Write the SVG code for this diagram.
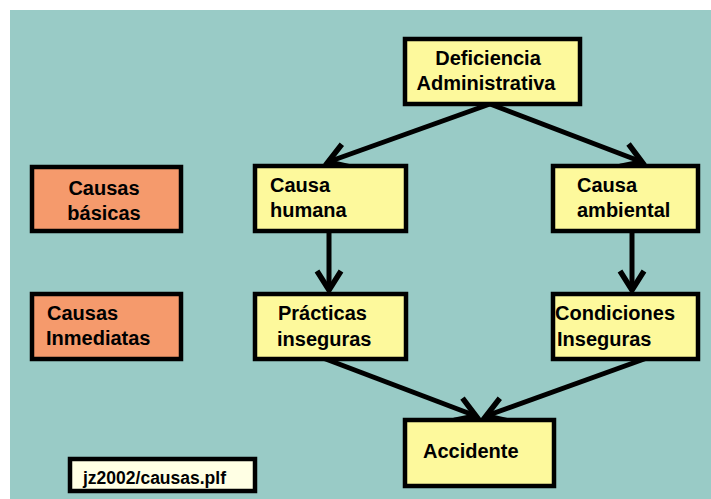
<svg xmlns="http://www.w3.org/2000/svg" width="711" height="499" viewBox="0 0 711 499">
<style>
.box{stroke:#000;stroke-width:4.5}
.y{fill:#FDF99C}
.o{fill:#F59A6C}
.c{fill:#FFFFE4}
text{font-family:"Liberation Sans",Arial,sans-serif;font-weight:bold;font-size:20px;fill:#000}
.m{text-anchor:middle}
.conn{stroke:#000;stroke-width:5;fill:none}
</style>
<defs>
<marker id="ah" markerUnits="userSpaceOnUse" markerWidth="40" markerHeight="40" viewBox="-25 -20 30 40" refX="0" refY="0" orient="auto">
<path d="M -19 -12 L 0 0 L -19 12" fill="none" stroke="#000" stroke-width="5.5"/>
</marker>
</defs>
<rect x="0" y="0" width="711" height="499" fill="#FFFFFF"/>
<rect x="10" y="10" width="701" height="489" fill="#99CBC6"/>
<g id="connectors">
<line class="conn" x1="490" y1="104" x2="328" y2="162" marker-end="url(#ah)"/>
<line class="conn" x1="490" y1="104" x2="642" y2="162" marker-end="url(#ah)"/>
<line class="conn" x1="329" y1="232" x2="329" y2="290" marker-end="url(#ah)"/>
<line class="conn" x1="632" y1="232" x2="632" y2="290" marker-end="url(#ah)"/>
<line class="conn" x1="323" y1="358" x2="476" y2="416" marker-end="url(#ah)"/>
<line class="conn" x1="647" y1="358" x2="486" y2="416" marker-end="url(#ah)"/>
</g>
<g id="deficiencia">
<rect class="box y" x="405" y="39" width="175" height="65"/>
<text class="m" x="488" y="65">Deficiencia</text>
<text class="m" x="486" y="90">Administrativa</text>
</g>
<g id="causas-basicas">
<rect class="box o" x="32" y="167" width="149" height="64"/>
<text class="m" x="104" y="195">Causas</text>
<text class="m" x="104" y="220">básicas</text>
</g>
<g id="causas-inmediatas">
<rect class="box o" x="32" y="294" width="149" height="65"/>
<text x="47" y="320">Causas</text>
<text x="46" y="345">Inmediatas</text>
</g>
<g id="causa-humana">
<rect class="box y" x="255" y="166" width="151" height="65"/>
<text x="270" y="192">Causa</text>
<text x="270" y="217">humana</text>
</g>
<g id="causa-ambiental">
<rect class="box y" x="553" y="166" width="145" height="65"/>
<text x="577" y="192">Causa</text>
<text x="577" y="217">ambiental</text>
</g>
<g id="practicas">
<rect class="box y" x="255" y="294" width="151" height="65"/>
<text x="278" y="320">Prácticas</text>
<text x="277" y="346">inseguras</text>
</g>
<g id="condiciones">
<rect class="box y" x="553" y="294" width="145" height="65"/>
<text x="555" y="320">Condiciones</text>
<text x="557" y="346">Inseguras</text>
</g>
<g id="accidente">
<rect class="box y" x="405" y="420" width="149" height="66"/>
<text x="423" y="458">Accidente</text>
</g>
<g id="jz-label">
<rect class="box c" x="70" y="459" width="185" height="32"/>
<text x="83" y="484" style="font-size:17.5px">jz2002/causas.plf</text>
</g>
</svg>
